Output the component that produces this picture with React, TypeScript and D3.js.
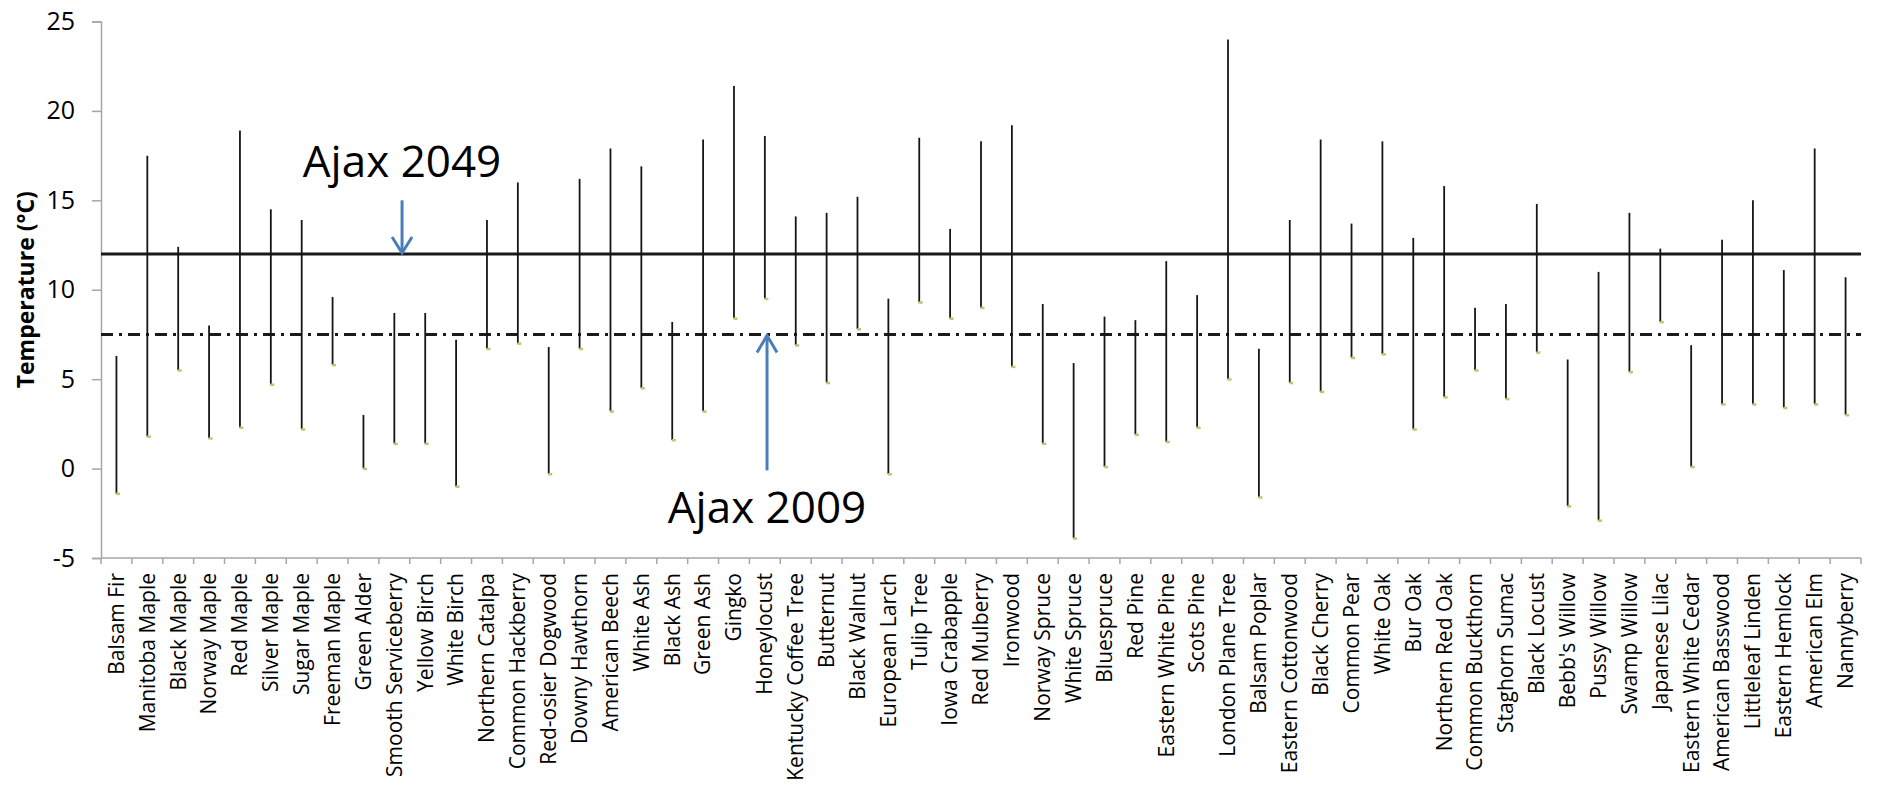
import React, { useEffect, useRef } from 'react';
import * as d3 from 'd3';

// species along the x axis
const species = [
  'Balsam Fir', 'Manitoba Maple', 'Black Maple', 'Norway Maple', 'Red Maple',
  'Silver Maple', 'Sugar Maple', 'Freeman Maple', 'Green Alder', 'Smooth Serviceberry',
  'Yellow Birch', 'White Birch', 'Northern Catalpa', 'Common Hackberry', 'Red-osier Dogwood',
  'Downy Hawthorn', 'American Beech', 'White Ash', 'Black Ash', 'Green Ash',
  'Gingko', 'Honeylocust', 'Kentucky Coffee Tree', 'Butternut', 'Black Walnut',
  'European Larch', 'Tulip Tree', 'Iowa Crabapple', 'Red Mulberry', 'Ironwood',
  'Norway Spruce', 'White Spruce', 'Bluespruce', 'Red Pine', 'Eastern White Pine',
  'Scots Pine', 'London Plane Tree', 'Balsam Poplar', 'Eastern Cottonwood', 'Black Cherry',
  'Common Pear', 'White Oak', 'Bur Oak', 'Northern Red Oak', 'Common Buckthorn',
  'Staghorn Sumac', 'Black Locust', "Bebb's Willow", 'Pussy Willow', 'Swamp Willow',
  'Japanese Lilac', 'Eastern White Cedar', 'American Basswood', 'Littleleaf Linden', 'Eastern Hemlock',
  'American Elm', 'Nannyberry',
];

// upper end of each range (°C)
const highs = [
  6.3, 17.5, 12.4, 8.0, 18.9, 14.5, 13.9, 9.6, 3.0, 8.7,
  8.7, 7.2, 13.9, 16.0, 6.8, 16.2, 17.9, 16.9, 8.2, 18.4,
  21.4, 18.6, 14.1, 14.3, 15.2, 9.5, 18.5, 13.4, 18.3, 19.2,
  9.2, 5.9, 8.5, 8.3, 11.6, 9.7, 24.0, 6.7, 13.9, 18.4,
  13.7, 18.3, 12.9, 15.8, 9.0, 9.2, 14.8, 6.1, 11.0, 14.3,
  12.3, 6.9, 12.8, 15.0, 11.1, 17.9, 10.7,
];

// lower end of each range (°C)
const lows = [
  -1.4, 1.8, 5.5, 1.7, 2.3, 4.7, 2.2, 5.8, 0.0, 1.4,
  1.4, -1.0, 6.7, 7.0, -0.3, 6.7, 3.2, 4.5, 1.6, 3.2,
  8.4, 9.5, 6.9, 4.8, 7.8, -0.3, 9.3, 8.4, 9.0, 5.7,
  1.4, -3.9, 0.1, 1.9, 1.5, 2.3, 5.0, -1.6, 4.8, 4.3,
  6.2, 6.4, 2.2, 4.0, 5.5, 3.9, 6.5, -2.1, -2.9, 5.4,
  8.2, 0.1, 3.6, 3.6, 3.4, 3.6, 3.0,
];

const yTicks = [-5, 0, 5, 10, 15, 20, 25];

// reference temperatures
const ajax2049 = 12.0;
const ajax2009 = 7.5;

const W = 1879;
const H = 791;

export default function App() {
  const ref = useRef<SVGSVGElement>(null);

  useEffect(() => {
    document.body.style.margin = '0';
    const svg = d3.select(ref.current);
    svg.selectAll('*').remove();

    const font = "'Open Sans', 'Noto Sans', sans-serif";
    const x = d3.scaleBand().domain(species).range([101, 1861]).padding(0);
    const y = d3.scaleLinear().domain([-5, 25]).range([558, 21.5]);
    const xAt = (i: number) => x.range()[0] + i * x.step();
    const cx = (d: string) => (x(d) as number) + x.bandwidth() / 2;

    // y axis
    const yAxis = svg.append('g')
      .attr('transform', 'translate(101,0)')
      .call(d3.axisLeft(y).tickValues(yTicks).tickSize(9).tickPadding(17).tickFormat((d) => String(d)));
    yAxis.select('.domain').attr('stroke', '#a6a6a6').attr('stroke-width', 1.5);
    yAxis.selectAll('.tick line').attr('stroke', '#a6a6a6').attr('stroke-width', 1.5);
    yAxis.selectAll('.tick text')
      .attr('font-family', font).attr('font-size', 25).attr('fill', '#000');

    // x axis, ticks between categories
    const xg = svg.append('g');
    xg.append('line')
      .attr('x1', x.range()[0]).attr('x2', x.range()[1])
      .attr('y1', y(-5)).attr('y2', y(-5))
      .attr('stroke', '#a6a6a6').attr('stroke-width', 1.5);
    xg.selectAll('line.tk')
      .data(d3.range(species.length + 1))
      .join('line')
      .attr('class', 'tk')
      .attr('x1', (i) => xAt(i)).attr('x2', (i) => xAt(i))
      .attr('y1', y(-5)).attr('y2', y(-5) + 6)
      .attr('stroke', '#a6a6a6').attr('stroke-width', 1.5);
    xg.selectAll('text')
      .data(species)
      .join('text')
      .attr('transform', (d) => `translate(${cx(d)},${y(-5) + 15}) rotate(-90)`)
      .attr('text-anchor', 'end')
      .attr('dy', '0.35em')
      .attr('font-family', font)
      .attr('font-size', 21)
      .attr('font-weight', 500)
      .attr('fill', '#000')
      .text((d) => d);

    // y axis title
    svg.append('text')
      .attr('transform', `translate(26,${(y(4) + y(16)) / 2}) rotate(-90)`)
      .attr('text-anchor', 'middle')
      .attr('dy', '0.35em')
      .attr('font-family', font)
      .attr('font-size', 23)
      .attr('font-weight', 700)
      .attr('fill', '#000')
      .text('Temperature (°C)');

    // reference lines
    svg.append('line')
      .attr('x1', x.range()[0]).attr('x2', x.range()[1])
      .attr('y1', y(ajax2049)).attr('y2', y(ajax2049))
      .attr('stroke', '#1a1a1a').attr('stroke-width', 3);
    svg.append('line')
      .attr('x1', x.range()[0]).attr('x2', x.range()[1])
      .attr('y1', y(ajax2009)).attr('y2', y(ajax2009))
      .attr('stroke', '#1a1a1a').attr('stroke-width', 3)
      .attr('stroke-dasharray', '12,6,3,6');

    // range lines
    const data = species.map((s, i) => ({ s, lo: lows[i], hi: highs[i] }));
    svg.append('g').selectAll('line')
      .data(data)
      .join('line')
      .attr('x1', (d) => cx(d.s)).attr('x2', (d) => cx(d.s))
      .attr('y1', (d) => y(d.hi)).attr('y2', (d) => y(d.lo))
      .attr('stroke', '#151515').attr('stroke-width', 1.8);
    svg.append('g').selectAll('rect')
      .data(data)
      .join('rect')
      .attr('x', (d) => cx(d.s) - 0.5).attr('y', (d) => y(d.lo) - 1)
      .attr('width', 4).attr('height', 2.5)
      .attr('fill', '#c4c46a');

    // annotations
    const blue = '#4a7ebb';
    const a1x = xAt(9.75);
    svg.append('text')
      .attr('x', a1x).attr('y', y(16.3))
      .attr('text-anchor', 'middle')
      .attr('font-family', font).attr('font-size', 44).attr('fill', '#000')
      .text('Ajax 2049');
    svg.append('line')
      .attr('x1', a1x).attr('x2', a1x)
      .attr('y1', y(15.0)).attr('y2', y(ajax2049) - 1)
      .attr('stroke', blue).attr('stroke-width', 3);
    svg.append('path')
      .attr('d', `M${a1x - 10},${y(ajax2049) - 17}L${a1x},${y(ajax2049) - 1}L${a1x + 10},${y(ajax2049) - 17}`)
      .attr('fill', 'none').attr('stroke', blue).attr('stroke-width', 3);

    const a2x = xAt(21.57);
    svg.append('text')
      .attr('x', a2x).attr('y', y(-3.05))
      .attr('text-anchor', 'middle')
      .attr('font-family', font).attr('font-size', 44).attr('fill', '#000')
      .text('Ajax 2009');
    svg.append('line')
      .attr('x1', a2x).attr('x2', a2x)
      .attr('y1', y(-0.1)).attr('y2', y(ajax2009) + 1)
      .attr('stroke', blue).attr('stroke-width', 3);
    svg.append('path')
      .attr('d', `M${a2x - 10},${y(ajax2009) + 18}L${a2x},${y(ajax2009) + 1}L${a2x + 10},${y(ajax2009) + 18}`)
      .attr('fill', 'none').attr('stroke', blue).attr('stroke-width', 3);
  }, []);

  return <svg ref={ref} width={W} height={H} style={{ display: 'block', background: '#fff' }} />;
}
